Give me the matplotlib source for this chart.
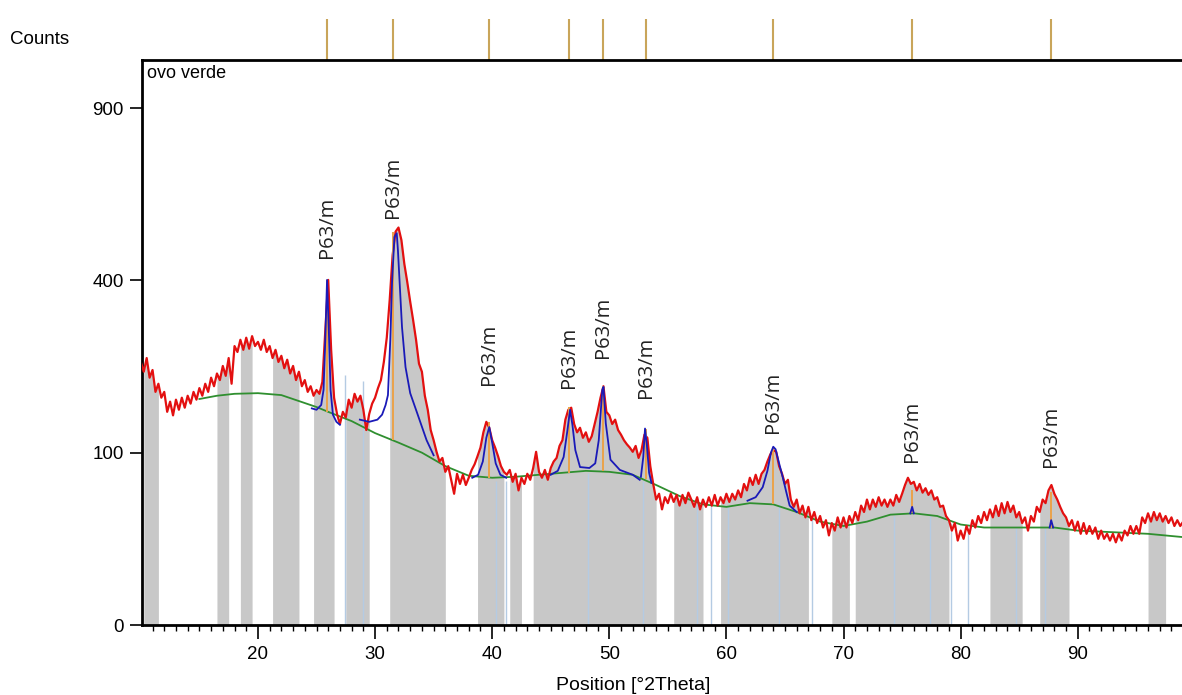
import numpy as np
import matplotlib.pyplot as plt
from matplotlib.ticker import MultipleLocator, NullLocator

plt.rcParams['font.family'] = ['Liberation Sans', 'DejaVu Sans']

counts = [
    233, 216, 240, 206, 219, 183, 196, 174,
    183, 153, 168, 148, 171, 156, 174, 159,
    177, 165, 183, 171, 189, 177, 196, 183,
    206, 192, 213, 202, 226, 209, 240, 196,
    262, 251, 274, 255, 278, 257, 281, 262,
    270, 255, 274, 251, 262, 240, 255, 233,
    244, 222, 237, 213, 226, 202, 216, 192,
    202, 183, 192, 177, 186, 180, 199, 293,
    401, 255, 174, 150, 136, 153, 145, 171,
    159, 180, 168, 177, 156, 128, 150, 165,
    174, 189, 202, 233, 278, 356, 461, 521,
    532, 499, 439, 396, 352, 313, 274, 230,
    216, 177, 156, 128, 115, 101, 90, 94,
    79, 85, 71, 58, 77, 67, 76, 66,
    73, 81, 87, 96, 106, 125, 139, 131,
    115, 106, 96, 85, 79, 76, 81, 69,
    77, 61, 73, 67, 77, 71, 83, 101,
    79, 73, 81, 71, 83, 90, 94, 108,
    115, 142, 156, 159, 136, 125, 131, 118,
    125, 113, 120, 136, 153, 174, 192, 153,
    148, 136, 142, 128, 122, 115, 110, 106,
    101, 108, 94, 103, 122, 118, 85, 67,
    53, 58, 45, 55, 50, 58, 51, 57,
    48, 57, 50, 59, 53, 47, 55, 45,
    53, 47, 55, 48, 57, 48, 55, 50,
    58, 51, 58, 53, 61, 55, 67, 61,
    73, 66, 76, 67, 77, 81, 90, 98,
    103, 101, 85, 77, 67, 71, 53, 47,
    53, 42, 48, 39, 47, 37, 43, 35,
    40, 32, 37, 27, 35, 30, 39, 32,
    39, 32, 40, 35, 43, 37, 48, 43,
    53, 45, 53, 47, 55, 48, 53, 47,
    53, 48, 57, 51, 58, 66, 73, 67,
    69, 61, 67, 59, 63, 57, 61, 53,
    55, 47, 48, 40, 37, 30, 35, 24,
    30, 25, 33, 28, 37, 32, 40, 35,
    43, 37, 45, 39, 48, 40, 50, 42,
    51, 43, 48, 39, 43, 35, 39, 30,
    40, 36, 47, 43, 53, 50, 61, 66,
    58, 53, 47, 42, 39, 33, 37, 30,
    36, 28, 35, 28, 33, 28, 32, 25,
    30, 25, 28, 24, 28, 23, 28, 24,
    30, 27, 33, 28, 33, 28, 39, 35,
    42, 36, 43, 37, 42, 36, 40, 35,
    39, 33, 37, 33, 36,
]
two_theta = 10.0 + 0.25 * np.arange(len(counts))

# fitted background (green)
bg_theta = [15, 16.5, 18, 20, 22, 25, 26, 28, 30, 32, 34, 36, 38, 40, 42, 44, 46,
            48, 50, 52, 54, 56, 58, 60, 62, 64, 66, 68, 70, 72, 74, 76, 78, 80, 82,
            84, 86, 88, 90, 93, 96, 99]
bg_counts = [172, 177, 180, 181, 178, 160, 153, 140, 124, 112, 100, 85, 75, 73,
             74, 76, 78, 80, 79, 76, 66, 56, 49, 47, 50, 49, 43, 36, 33, 36, 41, 42,
             40, 34, 32, 32, 32, 32, 30, 29, 28, 26]

# calculated profiles (blue)
prof_a_theta = [24.6, 25.0, 25.4, 25.6, 25.75, 25.9, 26.05, 26.2, 26.4, 26.7, 27.0]
prof_a_counts = [158, 156, 163, 186, 274, 401, 293, 186, 149, 139, 135]
prof_b_theta = [28.7, 29.5, 30.2, 30.6, 30.9, 31.1, 31.3, 31.45, 31.65, 31.85, 31.95,
                32.1, 32.3, 32.6, 33.0, 33.6, 34.4, 35.0]
prof_b_counts = [142, 139, 142, 149, 163, 178, 274, 394, 507, 517, 474, 394, 299,
                 224, 181, 151, 115, 97]
prof_c_theta = [38.3, 38.8, 39.2, 39.5, 39.75, 40.0, 40.3, 40.7, 41.2]
prof_c_counts = [73, 76, 90, 118, 132, 112, 88, 76, 73]
prof_d_theta = [45.0, 45.6, 46.1, 46.4, 46.65, 46.85, 47.1, 47.5, 48.3, 48.8, 49.1,
                49.4, 49.5, 49.7, 50.1, 50.9, 52.0, 52.6]
prof_d_counts = [76, 80, 95, 125, 156, 135, 103, 84, 83, 88, 115, 186, 191, 137, 92,
                 81, 76, 71]
prof_e_theta = [52.7, 52.9, 53.05, 53.2, 53.4, 53.6]
prof_e_counts = [74, 95, 130, 110, 78, 68]
prof_f_theta = [61.8, 62.5, 63.1, 63.5, 63.8, 64.0, 64.2, 64.5, 64.8, 65.1, 65.4, 66.0]
prof_f_counts = [52, 55, 64, 80, 100, 107, 104, 88, 74, 60, 48, 43]
prof_g_theta = [75.7, 75.86, 76.0]
prof_g_counts = [42, 47, 42]
prof_h_theta = [87.6, 87.73, 87.9]
prof_h_counts = [32, 37, 32]

# P63/m reflections
peak_pos = [25.90, 31.54, 39.73, 46.57, 49.47, 53.14, 63.99, 75.86, 87.73]
peak_base = [153, 115, 73, 78, 80, 72, 49, 42, 32]
peak_top = [401, 520, 139, 160, 192, 130, 107, 61, 60]
label_y = [454, 558, 194, 189, 240, 174, 124, 90, 84]
phase = "P63/m"

gray_bands = [(10.1, 11.5), (16.3, 17.5), (18.3, 19.6), (21.2, 23.6), (24.7, 26.7),
              (27.5, 29.7), (31.1, 36.1), (38.6, 41.1), (41.3, 42.7), (43.3, 54.0),
              (55.3, 58.0), (59.3, 67.2), (68.9, 70.5), (70.8, 79.1), (82.5, 85.3),
              (86.7, 89.3), (95.9, 97.6)]
ref_theta = [27.4, 29.0, 40.3, 41.2, 48.2, 52.9, 57.5, 58.7, 60.1, 64.5, 67.3, 74.3,
             77.4, 79.2, 80.6, 84.7, 87.2]
ref_top = [210, 200, 70, 70, 78, 70, 50, 50, 47, 50, 38, 40, 40, 35, 30, 32, 32]


def fwd(v):
    return np.sqrt(np.clip(v, 0, None))


def inv(v):
    return np.square(v)


W, H = 1182, 695
fig = plt.figure(figsize=(W / 100, H / 100), dpi=100)
ax = fig.add_axes([142 / W, 70 / H, 1 - 142 / W, 565 / H])
ax.set_yscale('function', functions=(fwd, inv))

x = np.asarray(two_theta)
y = np.asarray(counts, dtype=float)
for a, b in gray_bands:
    m = (x >= a - 0.01) & (x <= b + 0.01)
    ax.fill_between(x[m], 0, y[m], color='#c8c8c8', lw=0, zorder=1)

ax.vlines(ref_theta, 0, ref_top, colors='#b4cbe3', lw=1, zorder=1.5)
ax.plot(bg_theta, bg_counts, color='#2f8f2f', lw=1.3, zorder=2)
ax.plot(x, y, color='#e31010', lw=1.6, zorder=3)
ax.vlines(peak_pos, peak_base, peak_top, colors='#eaa24a', lw=1.4, zorder=3.5)

profiles = [(prof_a_theta, prof_a_counts), (prof_b_theta, prof_b_counts),
            (prof_c_theta, prof_c_counts), (prof_d_theta, prof_d_counts),
            (prof_e_theta, prof_e_counts), (prof_f_theta, prof_f_counts),
            (prof_g_theta, prof_g_counts), (prof_h_theta, prof_h_counts)]
for px, py in profiles:
    ax.plot(px, py, color='#1a1ab8', lw=1.3, zorder=4)

for p, ly in zip(peak_pos, label_y):
    ax.text(p, ly, phase, rotation=90, ha='center', va='bottom', fontsize=14.5,
            family=['Open Sans', 'DejaVu Sans'], color='#222222')

# reflection markers above the plot
ax.vlines(peak_pos, 1.0, 1.072, transform=ax.get_xaxis_transform(),
          colors='#c9a55a', lw=1.5, clip_on=False)

ax.set_xlim(10.1, 98.9)
ax.set_ylim(0, 1075)
ax.set_yticks([0, 100, 400, 900])
ax.yaxis.set_minor_locator(NullLocator())
ax.xaxis.set_major_locator(MultipleLocator(10))
ax.xaxis.set_minor_locator(MultipleLocator(1))
ax.tick_params(axis='x', which='major', direction='out', length=10, width=1.2,
               labelsize=13.5, pad=5)
ax.tick_params(axis='x', which='minor', direction='out', length=4.5, width=1)
ax.tick_params(axis='y', which='major', direction='out', length=9, width=1.2,
               labelsize=13.5, pad=4)

for s in ['left', 'top', 'bottom']:
    ax.spines[s].set_linewidth(2)
ax.spines['right'].set_visible(False)

ax.text(5 / 1040, 1 - 5 / 565, 'ovo verde', transform=ax.transAxes, ha='left',
        va='top', fontsize=13)
fig.text(10 / W, 1 - 40 / H, 'Counts', ha='left', va='center', fontsize=13.5)
fig.text(633 / W, 1 - 686 / H, 'Position [°2Theta]', ha='center', va='center',
         fontsize=14)

fig.savefig('out.png', dpi=100)
